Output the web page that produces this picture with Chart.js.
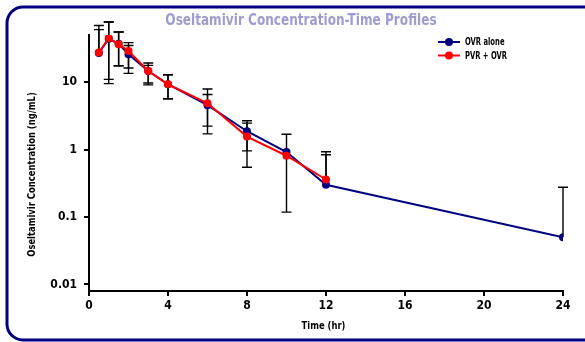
<!DOCTYPE html>
<html>
<head>
<meta charset="utf-8">
<script src="https://cdn.jsdelivr.net/npm/chart.js@4"></script>
<style>
html,body{margin:0;padding:0;background:#fff;}
#wrap{position:relative;width:585px;height:342px;}
</style>
</head>
<body>
<div id="wrap"><canvas id="c" width="585" height="342"></canvas></div>
<script>
const times = [0.5, 1, 1.5, 2, 3, 4, 6, 8, 10, 12, 24];
const ovrMean  = [27, 44, 37, 26, 14.6, 9.3, 4.55, 1.87, 0.92, 0.30, 0.050];
const ovrUpper = [69, 78, 55.5, 38.5, 19.2, 12.9, 7.9, 2.67, 1.69, 0.93, 0.276];
const ovrLower = [null, 11, 17.5, 16.2, 9.7, 5.66, 2.23, 0.956, 0.118, null, null];
const pvrTimes = [0.5, 1, 1.5, 2, 3, 4, 6, 8, 10, 12];
const pvrMean  = [27.5, 45, 36.5, 29, 14.6, 9.3, 4.85, 1.56, 0.81, 0.36];
const pvrUpper = [60, 78, 55.5, 35, 17.7, 12.9, 6.56, 2.47, null, 0.84];
const pvrLower = [null, 9.5, 17.5, 13.5, 9.1, 5.66, 1.71, 0.548, null, null];
const xTicks = [0, 4, 8, 12, 16, 20, 24];
const yTicks = [0.01, 0.1, 1, 10];
const seriesNames = ['OVR alone', 'PVR + OVR'];
const titleText = 'Oseltamivir Concentration-Time Profiles';
const xTitle = 'Time (hr)';
const yTitle = 'Oseltamivir Concentration (ng/mL)';

const FONT = "'Liberation Sans Narrow','DejaVu Sans Condensed','Arial Narrow',sans-serif";
const NAVY = '#000080';
const RED = '#ff0000';

function squeezeText(ctx, text, x, y, sx, align, rot) {
  ctx.save();
  ctx.translate(x, y);
  if (rot) ctx.rotate(rot);
  ctx.scale(sx, 1);
  ctx.textAlign = align;
  ctx.textBaseline = 'middle';
  ctx.fillText(text, 0, 0);
  ctx.restore();
}

const errorBars = {
  id: 'errorBars',
  beforeDatasetsDraw(chart) {
    const ctx = chart.ctx, xs = chart.scales.x, ys = chart.scales.y;
    const sets = [
      {t: times, m: ovrMean, u: ovrUpper, l: ovrLower},
      {t: pvrTimes, m: pvrMean, u: pvrUpper, l: pvrLower}
    ];
    ctx.save();
    ctx.strokeStyle = '#000';
    ctx.lineWidth = 1.4;
    sets.forEach(s => {
      s.t.forEach((t, i) => {
        if (s.u[i] == null && s.l[i] == null) return;
        const x = xs.getPixelForValue(t);
        const yTop = ys.getPixelForValue(s.u[i] != null ? s.u[i] : s.m[i]);
        const yBot = ys.getPixelForValue(s.l[i] != null ? s.l[i] : s.m[i]);
        ctx.beginPath();
        ctx.moveTo(x, yTop); ctx.lineTo(x, yBot);
        if (s.u[i] != null) { ctx.moveTo(x - 5, yTop); ctx.lineTo(x + 5, yTop); }
        if (s.l[i] != null) { ctx.moveTo(x - 5, yBot); ctx.lineTo(x + 5, yBot); }
        ctx.stroke();
      });
    });
    ctx.restore();
  }
};

const decor = {
  id: 'decor',
  beforeDraw(chart) {
    const ctx = chart.ctx;
    ctx.save();
    ctx.fillStyle = '#fff';
    ctx.fillRect(0, 0, chart.width, chart.height);
    ctx.strokeStyle = NAVY;
    ctx.lineWidth = 3;
    ctx.beginPath();
    ctx.roundRect(7, 7, 610, 333, 16);
    ctx.stroke();
    ctx.restore();
  },
  afterDraw(chart) {
    const ctx = chart.ctx;
    ctx.save();
    ctx.fillStyle = '#9c9ccf';
    ctx.font = 'bold 16px ' + FONT;
    squeezeText(ctx, titleText, 301, 21, 0.84, 'center');
    // axis titles
    ctx.fillStyle = '#000';
    ctx.font = 'bold 11px ' + FONT;
    squeezeText(ctx, xTitle, 323.5, 326, 0.85, 'center');
    ctx.font = 'bold 11px ' + FONT;
    squeezeText(ctx, yTitle, 32, 174.5, 0.85, 'center', -Math.PI / 2);
    // legend
    const cols = [NAVY, RED];
    const rows = [42, 55.5];
    ctx.font = 'bold 10.5px ' + FONT;
    seriesNames.forEach((n, i) => {
      ctx.strokeStyle = cols[i];
      ctx.fillStyle = cols[i];
      ctx.lineWidth = 2;
      ctx.beginPath();
      ctx.moveTo(438, rows[i]); ctx.lineTo(460, rows[i]);
      ctx.stroke();
      ctx.beginPath();
      ctx.arc(449, rows[i], 4, 0, Math.PI * 2);
      ctx.fill();
      ctx.fillStyle = '#000';
      squeezeText(ctx, n, 465, rows[i] + 0.5, 0.72, 'left');
    });
    ctx.restore();
  }
};

new Chart(document.getElementById('c'), {
  type: 'scatter',
  data: {
    datasets: [
      {
        label: seriesNames[0],
        data: times.map((t, i) => ({x: t, y: ovrMean[i]})),
        showLine: true,
        borderColor: NAVY,
        backgroundColor: NAVY,
        borderWidth: 2,
        pointRadius: 4,
        pointBorderWidth: 0,
        order: 2
      },
      {
        label: seriesNames[1],
        data: pvrTimes.map((t, i) => ({x: t, y: pvrMean[i]})),
        showLine: true,
        borderColor: RED,
        backgroundColor: RED,
        borderWidth: 2,
        pointRadius: 4,
        pointBorderWidth: 0,
        order: 1
      }
    ]
  },
  options: {
    responsive: false,
    animation: false,
    devicePixelRatio: 1,
    layout: {padding: {left: 6, right: 22, top: 35, bottom: 0}},
    plugins: {legend: {display: false}, title: {display: false}, tooltip: {enabled: false}},
    scales: {
      x: {
        type: 'linear',
        min: 0, max: 24,
        afterBuildTicks(scale) { scale.ticks = xTicks.map(v => ({value: v})); },
        afterFit(scale) { scale.height = 51; },
        grid: {display: true, drawOnChartArea: false, drawTicks: true, tickLength: 5, color: '#000', lineWidth: 2},
        border: {display: true, color: '#000', width: 2},
        ticks: {color: '#000', font: {family: FONT, weight: 'bold', size: 12}, padding: 3, maxRotation: 0},
        title: {display: false}
      },
      y: {
        type: 'logarithmic',
        min: 0.008, max: 50,
        afterBuildTicks(scale) { scale.ticks = yTicks.map(v => ({value: v})); },
        afterFit(scale) { scale.width = 83; },
        grid: {display: true, drawOnChartArea: false, drawTicks: true, tickLength: 5, color: '#000', lineWidth: 2},
        border: {display: true, color: '#000', width: 2},
        ticks: {color: '#000', font: {family: FONT, weight: 'bold', size: 12}, padding: 7,
          callback: v => String(v)},
        title: {display: false}
      }
    }
  },
  plugins: [decor, errorBars]
});
</script>
</body>
</html>
